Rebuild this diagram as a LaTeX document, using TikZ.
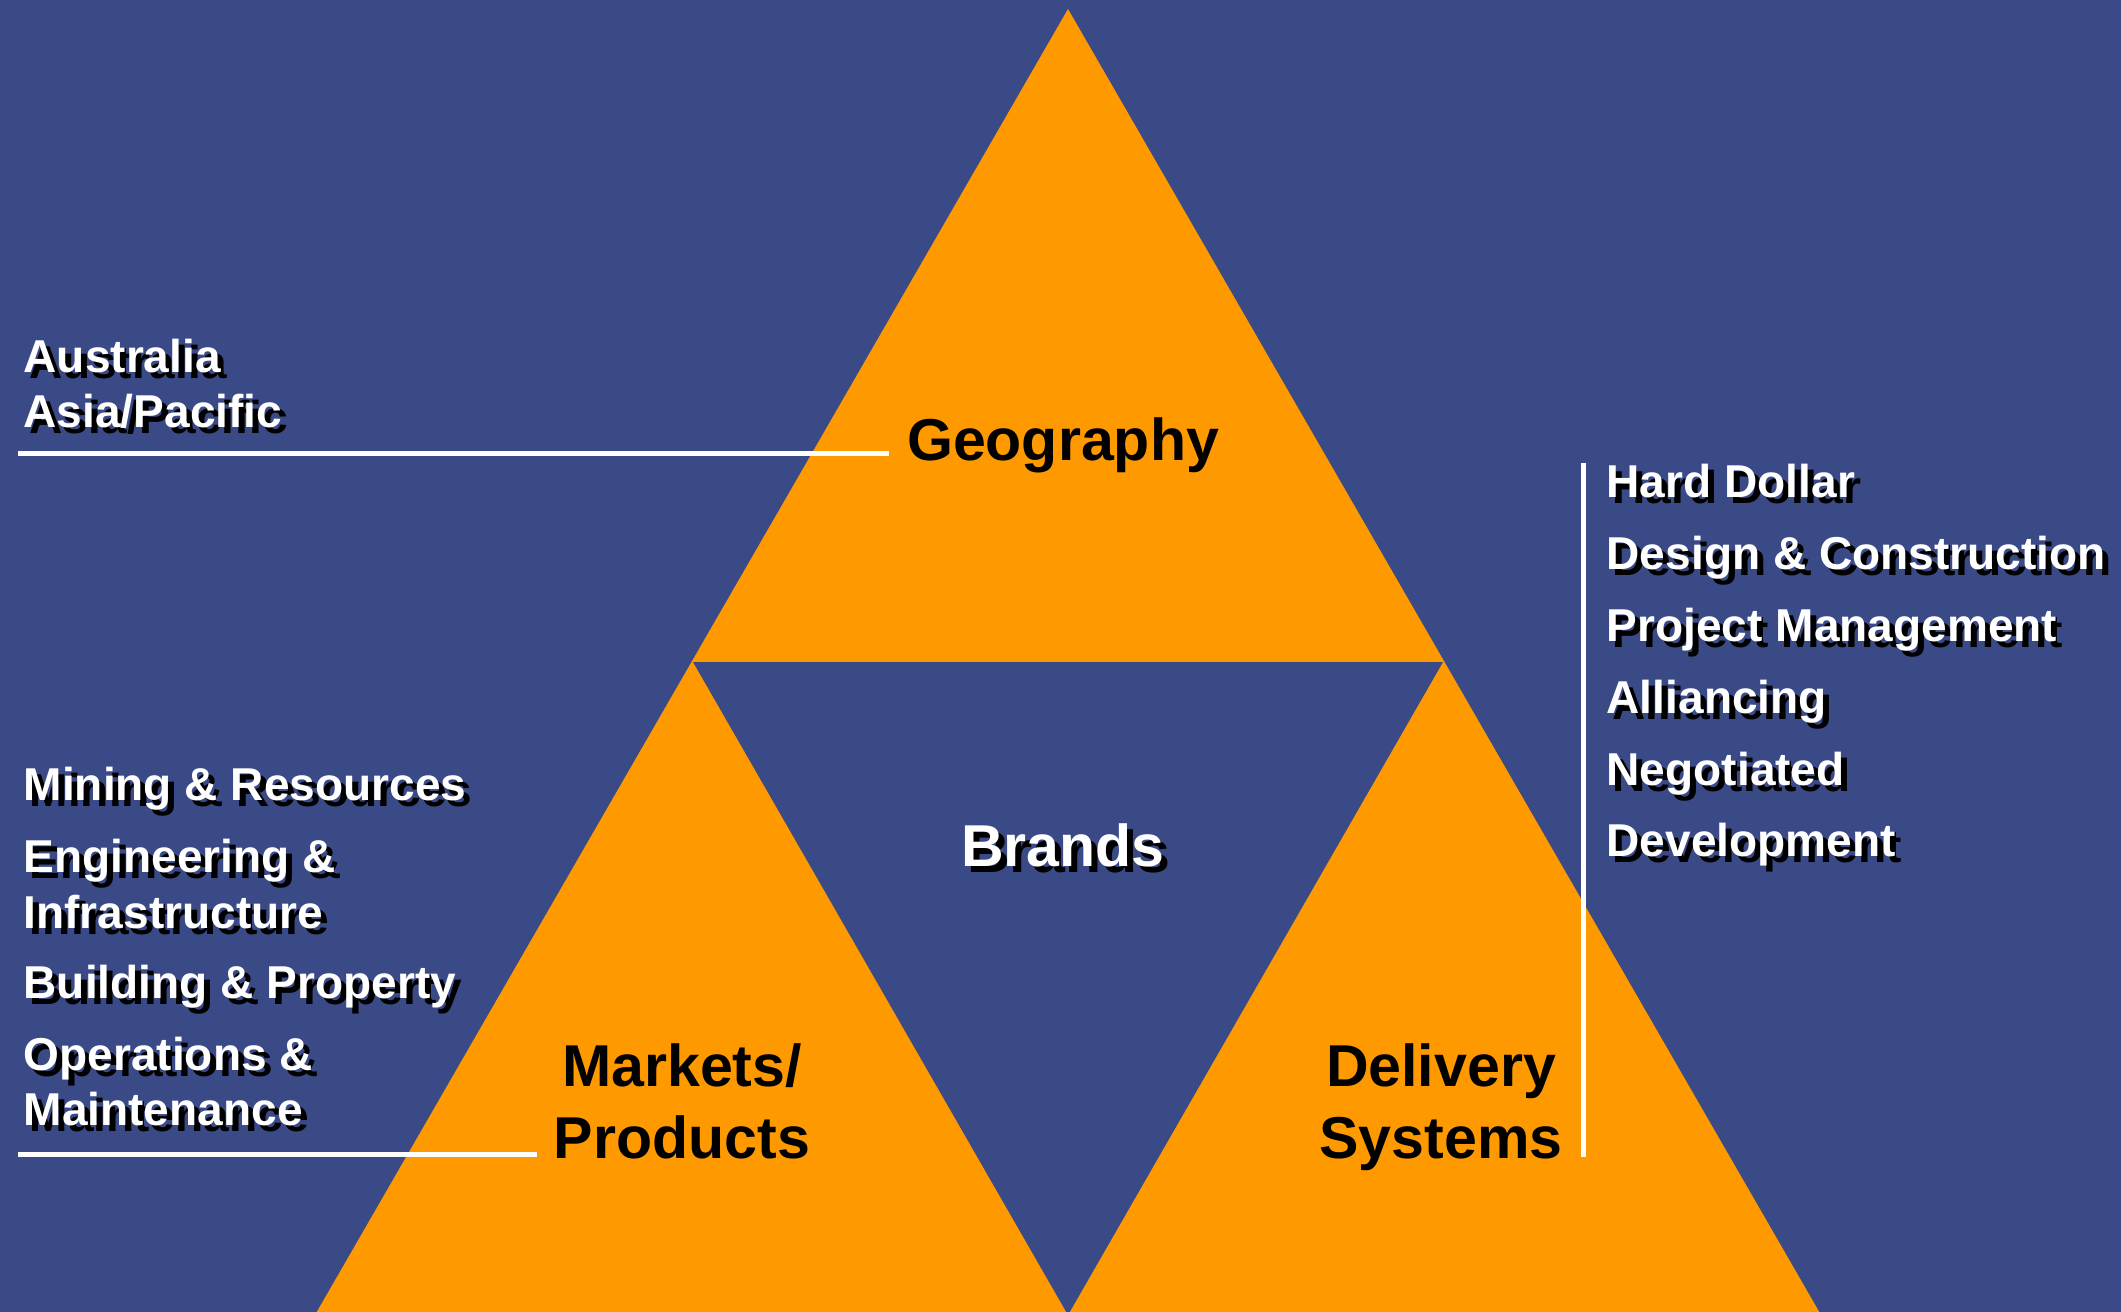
\documentclass[tikz,border=0pt]{standalone}
\usepackage{fontspec}
\setmainfont{Liberation Sans}
\definecolor{slide}{RGB}{58,74,134}
\definecolor{tri}{RGB}{255,153,0}
\newcommand{\shtext}[1]{\makebox[0pt][l]{\kern0.06cm\raisebox{-0.065cm}{\color{black}#1}}#1}

\begin{document}
\begin{tikzpicture}[x=0.01cm,y=-0.01cm,
  title/.style={font=\bfseries\fontsize{16.8}{20}\selectfont, anchor=base, inner sep=0pt},
  item/.style={font=\bfseries\fontsize{13.1}{15}\selectfont, text=white, anchor=base west, inner sep=0pt},
  rule/.style={white, line width=0.05cm}]
\fill[slide] (0,0) rectangle (2121,1312);
\useasboundingbox (0,0) rectangle (2121,1312);
\fill[tri] (1068,9) -- (1821,1315) -- (315,1315) -- cycle;
\fill[slide] (693,662) -- (1443,662) -- (1068,1315) -- cycle;

\node[title] (geo) at (1063,460) {Geography};
\node[title,text=white] (brands) at (1063,866) {\shtext{Brands}};
\node[title] (mkt) at (682,1086) {Markets/};
\node[title] (prod) at (682,1158) {Products};
\node[title] (del) at (1441,1086) {Delivery};
\node[title] (sys) at (1441,1158) {Systems};

\node[item] (aus) at (23,372) {\shtext{Australia}};
\node[item] (asia) at (23,427) {\shtext{Asia/Pacific}};

\node[item] (mining) at (23,800) {\shtext{Mining \& Resources}};
\node[item] (eng) at (23,872) {\shtext{Engineering \&}};
\node[item] (infra) at (23,928) {\shtext{Infrastructure}};
\node[item] (bld) at (23,998) {\shtext{Building \& Property}};
\node[item] (ops) at (23,1070) {\shtext{Operations \&}};
\node[item] (maint) at (23,1125) {\shtext{Maintenance}};

\node[item] (hard) at (1606,497) {\shtext{Hard Dollar}};
\node[item] (dnc) at (1606,569) {\shtext{Design \& Construction}};
\node[item] (pm) at (1606,641) {\shtext{Project Management}};
\node[item] (all) at (1606,713) {\shtext{Alliancing}};
\node[item] (neg) at (1606,785) {\shtext{Negotiated}};
\node[item] (dev) at (1606,856) {\shtext{Development}};

\coordinate (geoL) at (18,453);
\coordinate (geoR) at (889,453);
\coordinate (mktL) at (18,1154);
\coordinate (mktR) at (537,1154);
\coordinate (delT) at (1583,463);
\coordinate (delB) at (1583,1157);
\draw[rule] (geoL) -- (geoR);
\draw[rule] (mktL) -- (mktR);
\draw[rule] (delT) -- (delB);
\end{tikzpicture}
\end{document}
